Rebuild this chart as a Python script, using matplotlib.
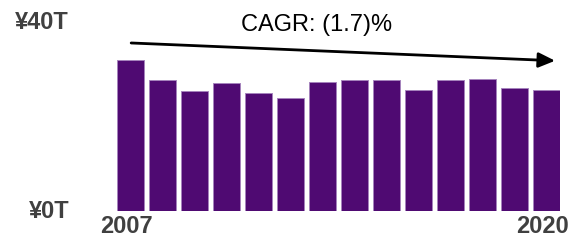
import matplotlib.pyplot as plt
import matplotlib.transforms as mtransforms
import numpy as np

# revenue by year, trillion yen
years = list(range(2007, 2021))
values = [32.0, 27.7, 25.4, 27.1, 25.0, 23.9, 27.4, 27.7, 27.7, 25.6, 27.7, 27.9, 26.0, 25.6]
ytick_vals = [0, 40]
ytick_labels = ['¥0T', '¥40T']
cagr_text = 'CAGR: (1.7)%'

plt.rcParams['font.family'] = ['Liberation Sans', 'DejaVu Sans']

fig = plt.figure(figsize=(5.75, 2.4), dpi=100)
ax = fig.add_axes([117/575, 29/240, 443/575, 189/240])

x = np.arange(len(years))
ax.bar(x, values, 0.83, color='#4f0a72', edgecolor='#a583bd', linewidth=0.7)

ax.set_xlim(-0.415, len(years) - 1 + 0.415)
ax.set_ylim(0, 40)

for s in ax.spines.values():
    s.set_visible(False)
ax.tick_params(length=0)

ax.set_xticks([x[0], x[-1]])
ax.set_xticklabels([str(years[0]), str(years[-1])], fontsize=17, fontweight='bold', color='#404040')
ax.tick_params(axis='x', pad=3)
off = mtransforms.ScaledTranslation(-4/100, 0, fig.dpi_scale_trans)
for lab in ax.get_xticklabels():
    lab.set_transform(lab.get_transform() + off)

ax.set_yticks(ytick_vals)
ax.set_yticklabels(ytick_labels, fontsize=17, fontweight='bold', color='#404040')
ax.tick_params(axis='y', pad=34.5)
for lab in ax.get_yticklabels():
    lab.set_horizontalalignment('right')
    lab.set_transform(lab.get_transform() + mtransforms.ScaledTranslation(0, 2/100, fig.dpi_scale_trans))

ax.annotate('', xy=(0.989, 0.795), xytext=(0.032, 0.889), xycoords='axes fraction',
            arrowprops=dict(arrowstyle='-|>,head_length=1.0,head_width=0.45', color='black', lw=2,
                            shrinkA=0, shrinkB=0), annotation_clip=False)
ax.text(0.451, 0.984, cagr_text, transform=ax.transAxes, ha='center', va='center',
        fontsize=17, color='black', clip_on=False)

plt.savefig('out.png', dpi=100)
